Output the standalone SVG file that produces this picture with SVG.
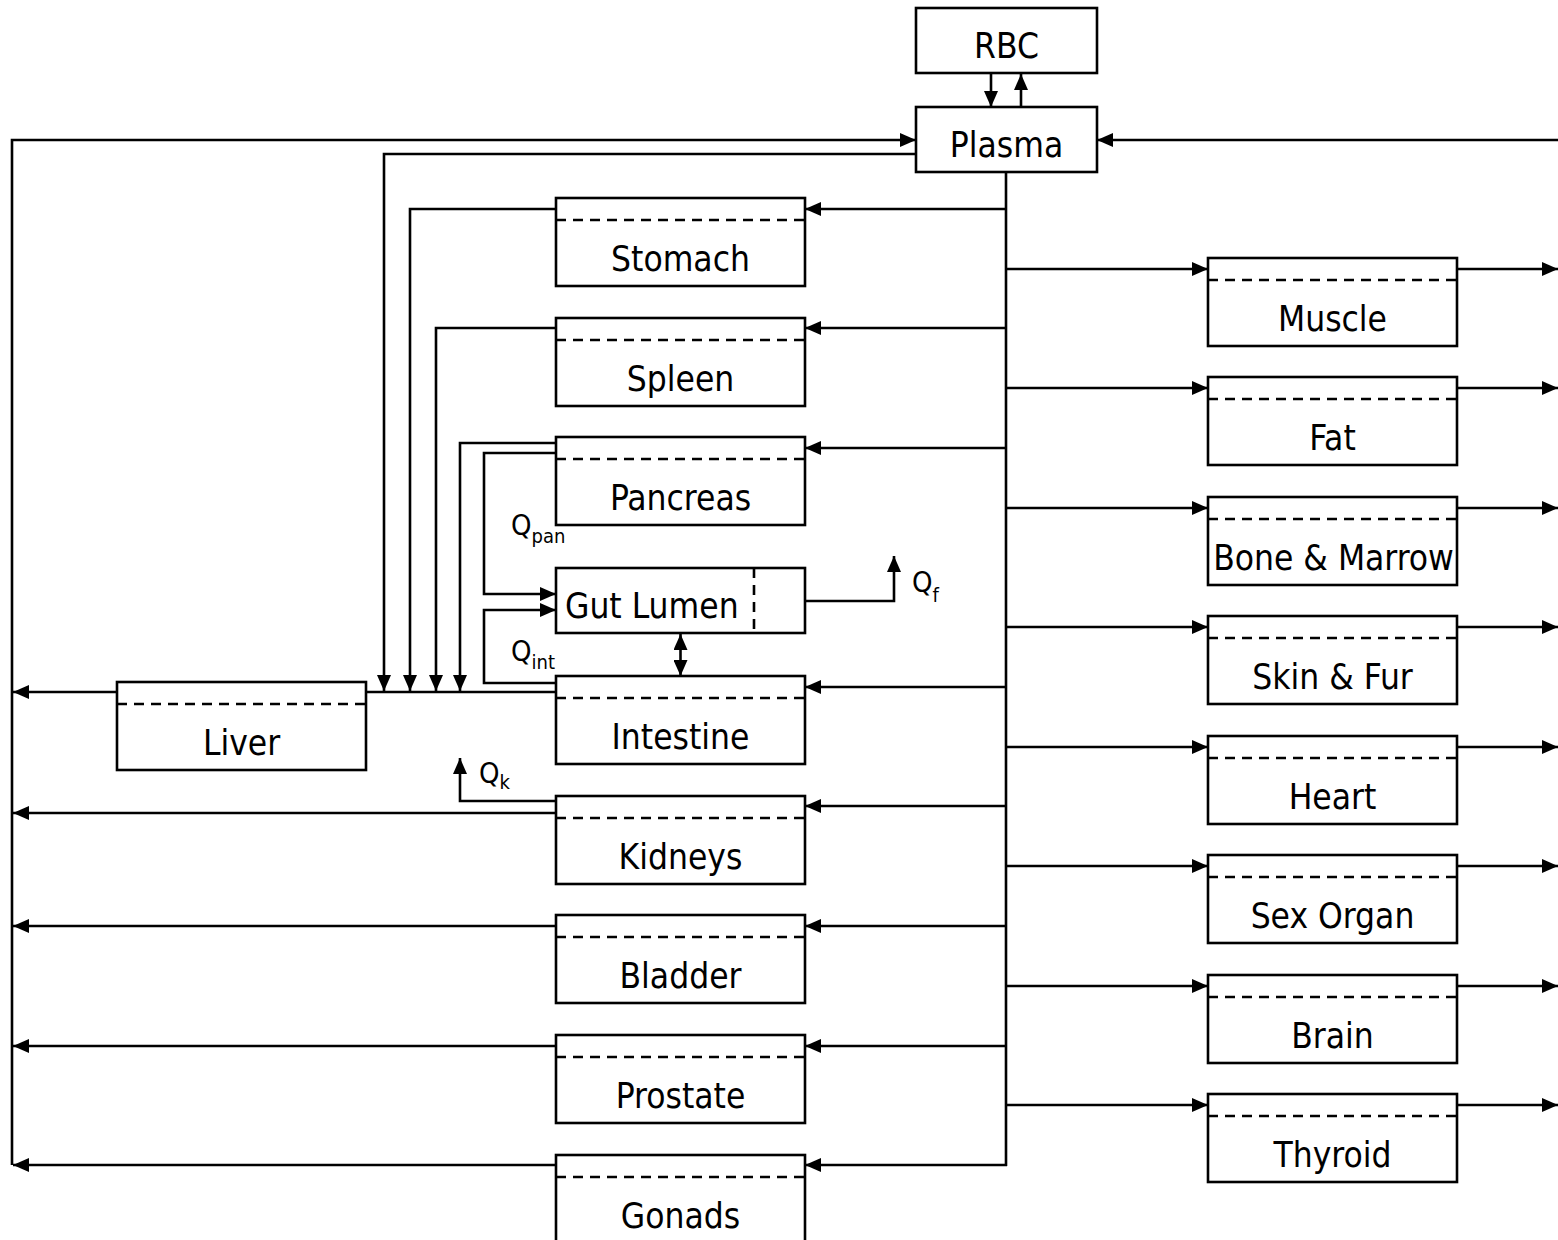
<svg xmlns="http://www.w3.org/2000/svg" width="1558" height="1240" viewBox="0 0 1558 1240">
<style>
.box{fill:#fff;stroke:#000;stroke-width:2.6}
.dash{fill:none;stroke:#000;stroke-width:2.6;stroke-dasharray:10 7}
.ln{fill:none;stroke:#000;stroke-width:2.6}
.arr{marker-end:url(#ah)}
.lbl{font-family:"DejaVu Sans Condensed","DejaVu Sans",sans-serif;font-stretch:condensed;font-size:35px;fill:#000;text-anchor:middle}
.q{font-family:"DejaVu Sans Condensed","DejaVu Sans",sans-serif;font-stretch:condensed;font-size:29px;fill:#000}
.sub{font-size:20px}
</style>
<defs>
<marker id="ah" markerUnits="userSpaceOnUse" markerWidth="16" markerHeight="14" refX="16" refY="7" orient="auto-start-reverse">
<path d="M0,0 L16,7 L0,14 z" fill="#000"/>
</marker>
</defs>
<rect width="1558" height="1240" fill="#fff"/>

<g id="connectors">
<line class="ln arr" x1="991" y1="73" x2="991" y2="107"/>
<line class="ln arr" x1="1021" y1="107" x2="1021" y2="74"/>
<polyline class="ln arr" points="12,1165 12,140 916,140"/>
<line class="ln arr" x1="1558" y1="140" x2="1097" y2="140"/>
<polyline class="ln arr" points="916,154 384,154 384,691"/>
<line class="ln" x1="1006" y1="172" x2="1006" y2="1166"/>
<!-- left inflows -->
<line class="ln arr" x1="1006" y1="209" x2="805" y2="209"/>
<line class="ln arr" x1="1006" y1="328" x2="805" y2="328"/>
<line class="ln arr" x1="1006" y1="448" x2="805" y2="448"/>
<line class="ln arr" x1="1006" y1="687" x2="805" y2="687"/>
<line class="ln arr" x1="1006" y1="806" x2="805" y2="806"/>
<line class="ln arr" x1="1006" y1="926" x2="805" y2="926"/>
<line class="ln arr" x1="1006" y1="1046" x2="805" y2="1046"/>
<line class="ln arr" x1="1007" y1="1165" x2="805" y2="1165"/>
<!-- right inflows / outflows -->
<line class="ln arr" x1="1006" y1="269" x2="1208" y2="269"/>
<line class="ln arr" x1="1457" y1="269" x2="1558" y2="269"/>
<line class="ln arr" x1="1006" y1="388" x2="1208" y2="388"/>
<line class="ln arr" x1="1457" y1="388" x2="1558" y2="388"/>
<line class="ln arr" x1="1006" y1="508" x2="1208" y2="508"/>
<line class="ln arr" x1="1457" y1="508" x2="1558" y2="508"/>
<line class="ln arr" x1="1006" y1="627" x2="1208" y2="627"/>
<line class="ln arr" x1="1457" y1="627" x2="1558" y2="627"/>
<line class="ln arr" x1="1006" y1="747" x2="1208" y2="747"/>
<line class="ln arr" x1="1457" y1="747" x2="1558" y2="747"/>
<line class="ln arr" x1="1006" y1="866" x2="1208" y2="866"/>
<line class="ln arr" x1="1457" y1="866" x2="1558" y2="866"/>
<line class="ln arr" x1="1006" y1="986" x2="1208" y2="986"/>
<line class="ln arr" x1="1457" y1="986" x2="1558" y2="986"/>
<line class="ln arr" x1="1006" y1="1105" x2="1208" y2="1105"/>
<line class="ln arr" x1="1457" y1="1105" x2="1558" y2="1105"/>
<!-- splanchnic to liver -->
<polyline class="ln arr" points="556,209 410,209 410,691"/>
<polyline class="ln arr" points="556,328 436,328 436,691"/>
<polyline class="ln arr" points="556,443 460,443 460,691"/>
<polyline class="ln arr" points="556,453 484,453 484,594 556,594"/>
<polyline class="ln arr" points="556,683 484,683 484,610 556,610"/>
<line class="ln" x1="556" y1="692" x2="366" y2="692"/>
<line class="ln arr" x1="117" y1="692" x2="13" y2="692"/>
<polyline class="ln arr" points="805,601 894,601 894,556"/>
<line class="ln" x1="680.5" y1="634" x2="680.5" y2="676" style="marker-start:url(#ah);marker-end:url(#ah)"/>
<polyline class="ln arr" points="556,801 460,801 460,758"/>
<line class="ln arr" x1="556" y1="813" x2="13" y2="813"/>
<line class="ln arr" x1="556" y1="926" x2="13" y2="926"/>
<line class="ln arr" x1="556" y1="1046" x2="13" y2="1046"/>
<line class="ln arr" x1="556" y1="1165" x2="13" y2="1165"/>
</g>

<g id="rbc"><rect class="box" x="916" y="8" width="181" height="65"/><text class="lbl" x="1006.5" y="58">RBC</text></g>
<g id="plasma"><rect class="box" x="916" y="107" width="181" height="65"/><text class="lbl" x="1006.5" y="157">Plasma</text></g>

<g id="stomach"><rect class="box" x="556" y="198" width="249" height="88"/><line class="dash" x1="556" y1="220" x2="805" y2="220"/><text class="lbl" x="680.5" y="271">Stomach</text></g>
<g id="spleen"><rect class="box" x="556" y="318" width="249" height="88"/><line class="dash" x1="556" y1="340" x2="805" y2="340"/><text class="lbl" x="680.5" y="391">Spleen</text></g>
<g id="pancreas"><rect class="box" x="556" y="437" width="249" height="88"/><line class="dash" x1="556" y1="459" x2="805" y2="459"/><text class="lbl" x="680.5" y="510">Pancreas</text></g>
<g id="gut-lumen"><rect class="box" x="556" y="568" width="249" height="65"/><line class="dash" x1="754" y1="568" x2="754" y2="633"/><text class="lbl" x="565" y="618" style="text-anchor:start">Gut Lumen</text></g>
<g id="intestine"><rect class="box" x="556" y="676" width="249" height="88"/><line class="dash" x1="556" y1="698" x2="805" y2="698"/><text class="lbl" x="680.5" y="749">Intestine</text></g>
<g id="liver"><rect class="box" x="117" y="682" width="249" height="88"/><line class="dash" x1="117" y1="704" x2="366" y2="704"/><text class="lbl" x="241.5" y="755">Liver</text></g>
<g id="kidneys"><rect class="box" x="556" y="796" width="249" height="88"/><line class="dash" x1="556" y1="818" x2="805" y2="818"/><text class="lbl" x="680.5" y="869">Kidneys</text></g>
<g id="bladder"><rect class="box" x="556" y="915" width="249" height="88"/><line class="dash" x1="556" y1="937" x2="805" y2="937"/><text class="lbl" x="680.5" y="988">Bladder</text></g>
<g id="prostate"><rect class="box" x="556" y="1035" width="249" height="88"/><line class="dash" x1="556" y1="1057" x2="805" y2="1057"/><text class="lbl" x="680.5" y="1108">Prostate</text></g>
<g id="gonads"><rect class="box" x="556" y="1155" width="249" height="95"/><line class="dash" x1="556" y1="1177" x2="805" y2="1177"/><text class="lbl" x="680.5" y="1228">Gonads</text></g>

<g id="muscle"><rect class="box" x="1208" y="258" width="249" height="88"/><line class="dash" x1="1208" y1="280" x2="1457" y2="280"/><text class="lbl" x="1332.5" y="331">Muscle</text></g>
<g id="fat"><rect class="box" x="1208" y="377" width="249" height="88"/><line class="dash" x1="1208" y1="399" x2="1457" y2="399"/><text class="lbl" x="1332.5" y="450">Fat</text></g>
<g id="bone"><rect class="box" x="1208" y="497" width="249" height="88"/><line class="dash" x1="1208" y1="519" x2="1457" y2="519"/><text class="lbl" x="1333.5" y="570">Bone &amp; Marrow</text></g>
<g id="skin"><rect class="box" x="1208" y="616" width="249" height="88"/><line class="dash" x1="1208" y1="638" x2="1457" y2="638"/><text class="lbl" x="1332.5" y="689">Skin &amp; Fur</text></g>
<g id="heart"><rect class="box" x="1208" y="736" width="249" height="88"/><line class="dash" x1="1208" y1="758" x2="1457" y2="758"/><text class="lbl" x="1332.5" y="809">Heart</text></g>
<g id="sex-organ"><rect class="box" x="1208" y="855" width="249" height="88"/><line class="dash" x1="1208" y1="877" x2="1457" y2="877"/><text class="lbl" x="1332.5" y="928">Sex Organ</text></g>
<g id="brain"><rect class="box" x="1208" y="975" width="249" height="88"/><line class="dash" x1="1208" y1="997" x2="1457" y2="997"/><text class="lbl" x="1332.5" y="1048">Brain</text></g>
<g id="thyroid"><rect class="box" x="1208" y="1094" width="249" height="88"/><line class="dash" x1="1208" y1="1116" x2="1457" y2="1116"/><text class="lbl" x="1332.5" y="1167">Thyroid</text></g>

<g id="labels">
<text class="q" x="511" y="535">Q<tspan class="sub" dy="8">pan</tspan></text>
<text class="q" x="511" y="661">Q<tspan class="sub" dy="8">int</tspan></text>
<text class="q" x="912" y="592">Q<tspan class="sub" dy="10">f</tspan></text>
<text class="q" x="479" y="783">Q<tspan class="sub" dy="6">k</tspan></text>
</g>
</svg>
